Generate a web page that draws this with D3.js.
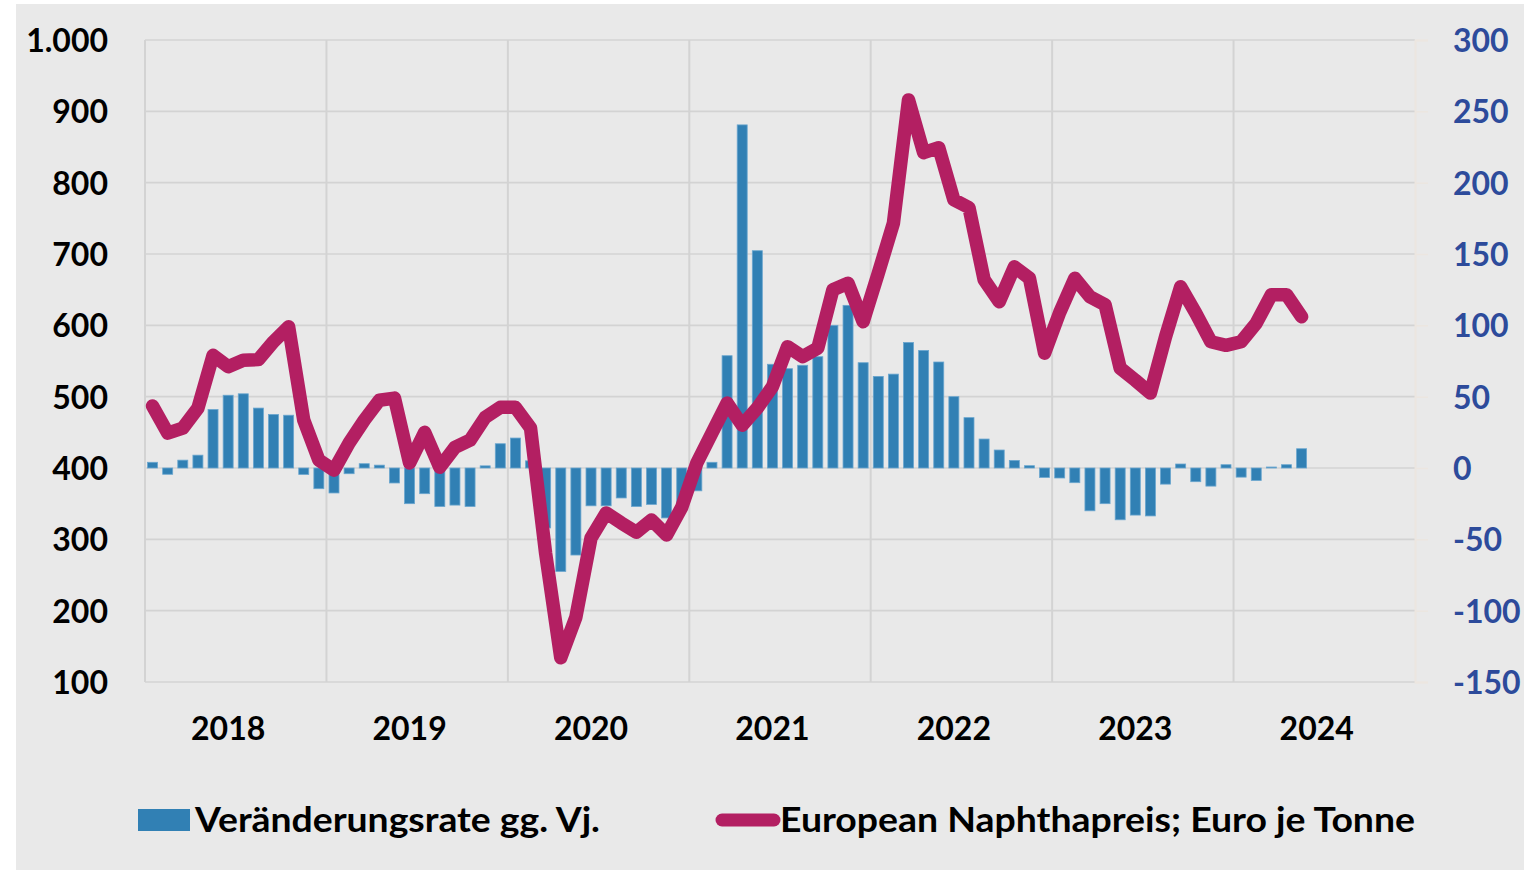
<!DOCTYPE html>
<html>
<head>
<meta charset="utf-8">
<script src="https://cdn.jsdelivr.net/npm/d3@7"></script>
<style>
  html, body { margin: 0; padding: 0; background: #ffffff; }
  svg { display: block; }
</style>
</head>
<body>
<svg id="chart" width="1524" height="874"></svg>
<script>
// ---------- DATA ----------
const months = [
  "2018-01","2018-02","2018-03","2018-04","2018-05","2018-06","2018-07","2018-08","2018-09","2018-10","2018-11","2018-12",
  "2019-01","2019-02","2019-03","2019-04","2019-05","2019-06","2019-07","2019-08","2019-09","2019-10","2019-11","2019-12",
  "2020-01","2020-02","2020-03","2020-04","2020-05","2020-06","2020-07","2020-08","2020-09","2020-10","2020-11","2020-12",
  "2021-01","2021-02","2021-03","2021-04","2021-05","2021-06","2021-07","2021-08","2021-09","2021-10","2021-11","2021-12",
  "2022-01","2022-02","2022-03","2022-04","2022-05","2022-06","2022-07","2022-08","2022-09","2022-10","2022-11","2022-12",
  "2023-01","2023-02","2023-03","2023-04","2023-05","2023-06","2023-07","2023-08","2023-09","2023-10","2023-11","2023-12",
  "2024-01","2024-02","2024-03","2024-04","2024-05"
];
// European naphtha price, euro per tonne (left axis)
const naphthaPrice = [
  487, 449, 456, 484, 558, 542, 551, 552, 577, 598, 467, 411,
  397, 435, 467, 495, 498, 407, 450, 401, 429, 439, 471, 485,
  485, 456, 280, 134, 191, 302, 337, 323, 310, 327, 306, 345,
  407, 449, 491, 460, 484, 514, 570, 556, 568, 650, 659, 605,
  673, 743, 916, 842, 849, 776, 765, 664, 633, 682, 666, 561,
  618, 666, 640, 629, 540, 523, 505, 584, 654, 617, 577, 572,
  577, 603, 643, 643, 612
];
// Change vs. previous year, percent (right axis)
const changeRate = [
  4, -4.4, 5.5, 9, 41, 51, 52, 42, 37.5, 37, -4.5, -14.5,
  -17.5, -4, 3, 2, -10.5, -25, -18, -27, -26, -27, 1.5, 17,
  21, 5, -42, -72.5, -61, -26.5, -26.5, -21, -27, -25.5, -35, -30,
  -16, 4, 78.7, 240.5, 152.3, 72.7, 69.6, 72, 78, 100, 114, 73.8,
  64.2, 65.8, 88, 82.4, 74.3, 50, 35.3, 20.3, 12.6, 5.3, 1.6, -6.6,
  -7, -10.3, -30, -25, -36.3, -33, -33.6, -11.3, 2.8, -9.6, -12.7, 2.3,
  -6.4, -8.7, 0.7, 2.3, 13.5
];
const years = ["2018","2019","2020","2021","2022","2023","2024"];
const leftTicks = [100, 200, 300, 400, 500, 600, 700, 800, 900, 1000];
const rightTicks = [-150, -100, -50, 0, 50, 100, 150, 200, 250, 300];
const legendLabels = ["Veränderungsrate gg. Vj.", "European Naphthapreis; Euro je Tonne"];

// ---------- LAYOUT ----------
const W = 1524, H = 874;
const plot = { left: 145, right: 1415, top: 40, bottom: 682 };
const colors = { bg: "#e9e9e9", grid: "#d3d3d3", bar: "#3180b4", barEdge: "#6aa6cf",
                 line: "#b31f62", rightLabel: "#2d4b9b", text: "#000000", rightAxis: "#ece6e0" };
const fontFamily = "'Source Sans Pro', Lato, 'Noto Sans', sans-serif";

const svg = d3.select("#chart");
svg.append("rect").attr("x", 16).attr("y", 4).attr("width", W - 16).attr("height", 866)
  .attr("fill", colors.bg);

const totalMonths = years.length * 12;
const x = d3.scaleLinear().domain([0, totalMonths]).range([plot.left, plot.right]);
const yL = d3.scaleLinear().domain([100, 1000]).range([plot.bottom, plot.top]);
const yR = d3.scaleLinear().domain([-150, 300]).range([plot.bottom, plot.top]);
const idx = m => months.indexOf(m);

const de = d3.formatLocale({ decimal: ",", thousands: ".", grouping: [3], currency: ["", " €"], minus: "-" });
const fmtL = de.format(",");
const fmtR = de.format("d");

// ---------- GRID ----------
const grid = svg.append("g");
grid.selectAll("line.h").data(leftTicks).join("line")
  .attr("x1", plot.left).attr("x2", plot.right)
  .attr("y1", d => yL(d)).attr("y2", d => yL(d))
  .attr("stroke", colors.grid).attr("stroke-width", 1.6);
grid.selectAll("line.v").data(d3.range(0, years.length)).join("line")
  .attr("x1", d => x(d * 12)).attr("x2", d => x(d * 12))
  .attr("y1", plot.top).attr("y2", plot.bottom)
  .attr("stroke", colors.grid).attr("stroke-width", 2);

// right axis line + outward ticks
const rAxis = d3.axisRight(yR).tickValues(rightTicks).tickSize(13).tickFormat("");
const rg = svg.append("g").attr("transform", `translate(${plot.right},0)`).call(rAxis);
rg.selectAll("path.domain").attr("stroke", colors.rightAxis).attr("stroke-width", 2);
rg.selectAll(".tick line").attr("stroke", colors.rightAxis).attr("stroke-width", 1.5);

// ---------- BARS ----------
const barW = 10;
svg.append("g").selectAll("rect").data(changeRate).join("rect")
  .attr("x", (d, i) => x(idx(months[i]) + 0.5) - barW / 2)
  .attr("width", barW)
  .attr("y", d => yR(Math.max(0, d)))
  .attr("height", d => Math.abs(yR(d) - yR(0)))
  .attr("fill", colors.bar)
  .attr("stroke", colors.barEdge).attr("stroke-width", 0.8);

// ---------- LINE ----------
const line = d3.line()
  .x((d, i) => x(idx(months[i]) + 0.5))
  .y(d => yL(d));
svg.append("path").datum(naphthaPrice)
  .attr("d", line)
  .attr("fill", "none")
  .attr("stroke", colors.line)
  .attr("stroke-width", 13.5)
  .attr("stroke-linejoin", "round")
  .attr("stroke-linecap", "round");

// ---------- AXIS LABELS ----------
const lAxis = d3.axisLeft(yL).tickValues(leftTicks).tickSize(0).tickPadding(0).tickFormat(fmtL);
const lg = svg.append("g").attr("transform", "translate(108,0)").call(lAxis);
lg.select("path.domain").remove();
lg.selectAll("text").attr("font-family", fontFamily).attr("font-weight", 700)
  .attr("font-size", 32).attr("fill", colors.text).attr("dy", "0.36em").attr("x", 0);

const rLab = d3.axisRight(yR).tickValues(rightTicks).tickSize(0).tickPadding(0).tickFormat(fmtR);
const rl = svg.append("g").attr("transform", "translate(1453,0)").call(rLab);
rl.select("path.domain").remove();
rl.selectAll("text").attr("font-family", fontFamily).attr("font-weight", 700)
  .attr("font-size", 32).attr("fill", colors.rightLabel).attr("dy", "0.36em").attr("x", 0);

// year labels centered mid-year
svg.append("g").selectAll("text").data(years).join("text")
  .attr("x", (d, i) => x(i * 12 + 5.5))
  .attr("y", 740)
  .attr("text-anchor", "middle")
  .attr("font-family", fontFamily).attr("font-weight", 700).attr("font-size", 32)
  .attr("fill", colors.text)
  .text(d => d);

// ---------- LEGEND ----------
const leg = svg.append("g");
leg.append("rect").attr("x", 138).attr("y", 809).attr("width", 52).attr("height", 22).attr("fill", colors.bar);
leg.append("text").attr("x", 195).attr("y", 832)
  .attr("font-family", fontFamily).attr("font-weight", 700).attr("font-size", 34)
  .attr("textLength", 405).attr("lengthAdjust", "spacingAndGlyphs")
  .attr("fill", colors.text).text(legendLabels[0]);
leg.append("line").attr("x1", 722).attr("x2", 774).attr("y1", 820).attr("y2", 820)
  .attr("stroke", colors.line).attr("stroke-width", 13).attr("stroke-linecap", "round");
leg.append("text").attr("x", 780).attr("y", 832)
  .attr("font-family", fontFamily).attr("font-weight", 700).attr("font-size", 34)
  .attr("textLength", 635).attr("lengthAdjust", "spacingAndGlyphs")
  .attr("fill", colors.text).text(legendLabels[1]);
</script>
</body>
</html>
